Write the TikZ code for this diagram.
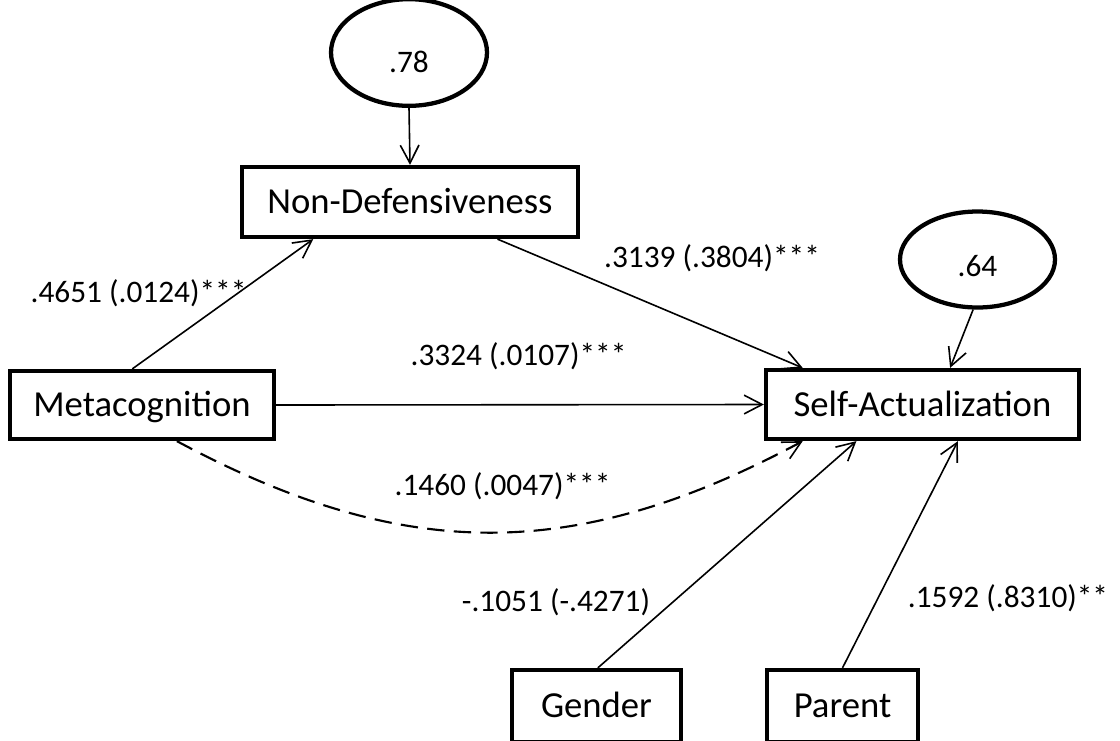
\documentclass[tikz,border=0pt]{standalone}
\usepackage{fontspec}
\setmainfont{Carlito}
\usetikzlibrary{arrows.meta,shapes.geometric}
\begin{document}
\begin{tikzpicture}[x=0.75pt,y=-0.75pt,
  varbox/.style={draw,line width=3.2pt,rectangle,inner sep=0pt,
    font=\fontsize{27.5}{33}\selectfont,text height=17.7pt,text depth=0pt},
  errell/.style={draw,line width=3.2pt,ellipse,inner sep=0pt,
    font=\fontsize{23.5}{28}\selectfont,text depth=0pt},
  coef/.style={inner sep=0pt,anchor=base,font=\fontsize{23.5}{28}\selectfont},
  path/.style={line width=1.2pt,-{Straight Barb[length=13.5pt,width=14pt,line width=1.2pt]}},
  dashpath/.style={path,line width=1.6pt,dash pattern=on 13pt off 7pt},
]
\useasboundingbox (0,0) rectangle (1120,740);

% variables
\node[varbox,minimum width=252pt,minimum height=52.5pt] (nd) at (410,202) {Non-Defensiveness};
\node[varbox,minimum width=198pt,minimum height=51pt] (meta) at (142,405) {Metacognition};
\node[varbox,minimum width=234.75pt,minimum height=51.75pt] (sa) at (922.5,404.5) {Self-Actualization};
\node[varbox,minimum width=126.75pt,minimum height=54pt] (gen) at (596.5,706) {Gender};
\node[varbox,minimum width=113.25pt,minimum height=54pt] (par) at (842.5,706) {Parent};

% error terms
\node[errell,minimum width=117pt,minimum height=80pt,text height=30pt] (e1) at (409,52.5) {.78};
\node[errell,minimum width=116.25pt,minimum height=72pt,text height=24.75pt] (e2) at (977.5,259.5) {.64};

% paths
\draw[path] (e1.south) -- (nd.north);
\draw[path] (e2.265) -- (sa.53);
\draw[path] (meta.105) -- (nd.201);
\draw[path] (nd.-23) -- (sa.163.6);
\draw[path] (meta.east) -- (sa.west);
\draw[dashpath] (meta.-46.6) .. controls (404,563) and (575,563) .. (sa.197);
\draw[path] (gen.88) -- (sa.209.5);
\draw[path] (par.north) -- (sa.-46);

% coefficients
\node[coef] (c1) at (138.5,302) {.4651 (.0124)***};
\node[coef] (c2) at (712,267) {.3139 (.3804)***};
\node[coef] (c3) at (518.5,365) {.3324 (.0107)***};
\node[coef] (c4) at (502.5,495) {.1460 (.0047)***};
\node[coef] (c5) at (556,611) {-.1051 (-.4271)};
\node[coef] (c6) at (1008,607) {.1592 (.8310)**};
\end{tikzpicture}
\end{document}
